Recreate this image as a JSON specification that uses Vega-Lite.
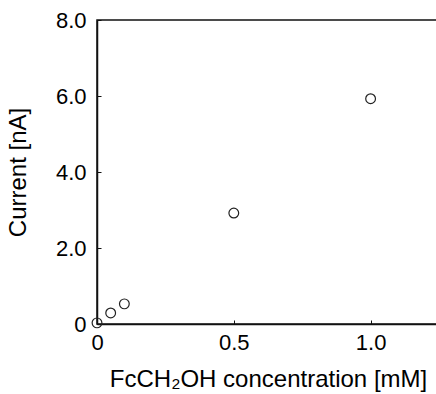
{
  "$schema": "https://vega.github.io/schema/vega-lite/v6.json",
  "width": 342,
  "height": 304,
  "autosize": {"type": "none"},
  "padding": {"left": 97, "top": 20, "right": 0, "bottom": 70},
  "background": "white",
  "config": {
    "font": "Liberation Sans",
    "view": {"stroke": "#111111", "strokeWidth": 1.5},
    "axis": {
      "grid": false,
      "domainColor": "#111111",
      "domainWidth": 1.5,
      "tickColor": "#111111",
      "tickWidth": 1,
      "tickSize": -4,
      "labelFont": "Liberation Sans",
      "labelFontSize": 22,
      "labelColor": "#000000",
      "titleFont": "Liberation Sans",
      "titleFontSize": 24,
      "titleFontWeight": "normal",
      "titleColor": "#000000"
    }
  },
  "data": {
    "values": [
      {"conc": 0.0, "current": 0.03},
      {"conc": 0.05, "current": 0.29},
      {"conc": 0.1, "current": 0.53},
      {"conc": 0.5, "current": 2.92},
      {"conc": 1.0, "current": 5.93}
    ]
  },
  "mark": {"type": "point", "shape": "circle", "filled": false, "stroke": "#222222", "strokeWidth": 1.2, "size": 95, "opacity": 1},
  "encoding": {
    "x": {
      "field": "conc",
      "type": "quantitative",
      "scale": {"domain": [0, 1.25], "nice": false, "zero": true},
      "axis": {
        "title": "FcCH₂OH concentration [mM]",
        "values": [0, 0.5, 1.0],
        "labelExpr": "datum.value == 0 ? '0' : format(datum.value, '.1f')",
        "labelPadding": 12,
        "titlePadding": 14,
        "labelFlush": false
      }
    },
    "y": {
      "field": "current",
      "type": "quantitative",
      "scale": {"domain": [0, 8], "nice": false},
      "axis": {
        "title": "Current [nA]",
        "values": [0, 2, 4, 6, 8],
        "labelExpr": "datum.value == 0 ? '0' : format(datum.value, '.1f')",
        "labelPadding": 15,
        "titleX": -67,
        "labelFlush": false
      }
    }
  }
}
